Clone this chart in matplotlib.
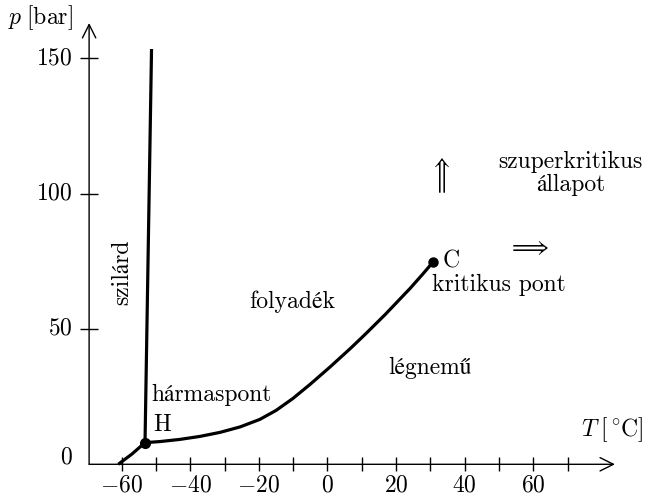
import matplotlib
matplotlib.use("Agg")
import matplotlib.pyplot as plt

plt.rcParams["mathtext.fontset"] = "cm"
plt.rcParams["font.family"] = ["cmr10", "STIXGeneral"]
plt.rcParams["axes.unicode_minus"] = False

# CO2 phase boundaries (T in degC, p in bar)
sub_T = [-61.0, -57.1, -53.2]
sub_p = [0.0, 3.7, 8.0]

melt_T = [-53.2, -51.3]
melt_p = [8.0, 153.4]

vap_T = [-53.2, -48.8, -43.0, -37.2, -31.3, -25.5, -19.7, -15.0, -10.1,
         -5.1, 0.7, 6.6, 10.9, 16.8, 24.1, 27.8, 30.9]
vap_p = [8.0, 8.4, 9.2, 10.3, 11.8, 13.8, 16.6, 19.9, 24.3,
         29.5, 35.9, 42.7, 47.9, 55.3, 65.0, 70.3, 74.9]

triple = (-53.2, 8.0)
critical = (30.9, 74.9)

x_major = [-60, -40, -20, 0, 20, 40, 60]
x_minor = [-50, -30, -10, 10, 30, 50, 70]
y_ticks = [50, 100, 150]

FS = 17

fig = plt.figure(figsize=(6.48, 4.98), dpi=100)
ax = fig.add_axes([0, 0, 1, 1])
ax.set_xlim(-95.48, 93.44)
ax.set_ylim(-12.45, 171.5)
ax.set_axis_off()

# axes drawn as arrows
x0, y0 = -69.5, 0.0
arrow = dict(arrowstyle="->", lw=1.0, color="black",
             mutation_scale=24, shrinkA=0, shrinkB=0)
ax.annotate("", xy=(83.8, y0), xytext=(x0, y0), arrowprops=arrow)
ax.annotate("", xy=(x0, 163.0), xytext=(x0, y0), arrowprops=arrow)

# ticks
ax.plot(x_major + x_minor, [y0] * len(x_major + x_minor), ls="none",
        marker="|", ms=10, mew=1.0, color="black")
ax.plot([x0] * len(y_ticks), y_ticks, ls="none",
        marker="_", ms=13, mew=1.0, color="black")

for t in x_major:
    ax.annotate(f"${t}$", xy=(t, y0), xytext=(0, -15.5),
                textcoords="offset points", ha="center", va="center", fontsize=FS)
for p in y_ticks:
    ax.annotate(f"${p}$", xy=(x0, p), xytext=(-12, 0),
                textcoords="offset points", ha="right", va="center", fontsize=FS)
ax.annotate("$0$", xy=(x0, y0), xytext=(-12, 5),
            textcoords="offset points", ha="right", va="center", fontsize=FS)

ax.annotate(r"$p\;[\mathrm{bar}]$", xy=(x0, 163.0), xytext=(-35, 4),
            textcoords="offset points", ha="center", va="center", fontsize=FS)
ax.annotate(r"$T\;[{}^\circ\!\mathrm{C}]$", xy=(83.8, y0), xytext=(-2, 25),
            textcoords="offset points", ha="center", va="center", fontsize=FS)

# phase boundaries
lw = 2.3
ax.plot(sub_T, sub_p, color="black", lw=lw, solid_capstyle="butt")
ax.plot(melt_T, melt_p, color="black", lw=lw, solid_capstyle="butt")
ax.plot(vap_T, vap_p, color="black", lw=lw, solid_capstyle="round",
        solid_joinstyle="round")
ax.plot(*triple, "o", color="black", ms=7)
ax.plot(*critical, "o", color="black", ms=6.5)

# labels of regions and points
ax.annotate("H", xy=triple, xytext=(12, 13), textcoords="offset points",
            ha="center", va="center", fontsize=FS)
ax.annotate("hármaspont", xy=triple, xytext=(48, 34), textcoords="offset points",
            ha="center", va="center", fontsize=FS)
ax.annotate("C", xy=critical, xytext=(13, 0), textcoords="offset points",
            ha="center", va="center", fontsize=FS)
ax.annotate("kritikus pont", xy=critical, xytext=(47, -17), textcoords="offset points",
            ha="center", va="center", fontsize=FS)

ax.text(-60.0, 71.0, "szilárd", rotation=90, ha="center", va="center", fontsize=FS)
ax.text(-10.2, 59.9, "folyadék", ha="center", va="center", fontsize=FS)
ax.text(29.9, 35.6, "légnemű", ha="center", va="center", fontsize=FS)
ax.text(70.7, 111.7, "szuperkritikus", ha="center", va="center", fontsize=FS)
ax.text(71.0, 103.2, "állapot", ha="center", va="center", fontsize=FS)
ax.text(33.6, 106.1, r"$\Longrightarrow$", rotation=90,
        ha="center", va="center", fontsize=FS)
ax.text(58.4, 79.9, r"$\Longrightarrow$", ha="center", va="center", fontsize=FS)

fig.savefig("out.png", dpi=100)
